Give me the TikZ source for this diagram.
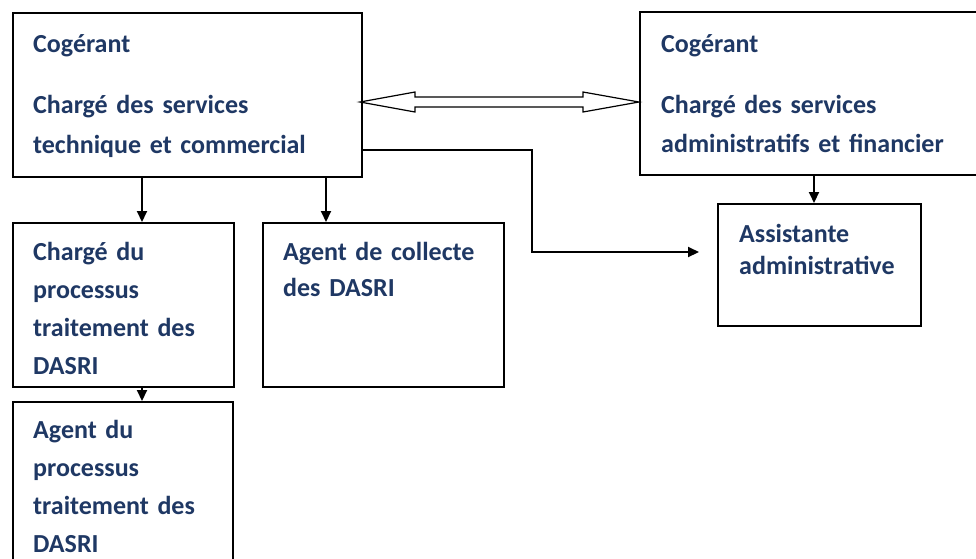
\documentclass[tikz,border=0pt]{standalone}
\usepackage{fontspec}
\setmainfont{Carlito}
\usetikzlibrary{arrows.meta,calc}
\definecolor{navy}{RGB}{31,56,100}
\tikzset{
  box/.style={draw=black, line width=2pt, rectangle, inner sep=0pt, anchor=north west, fill=white},
  txt/.style={anchor=base west, inner sep=0pt, text=navy, align=left, text width=340pt},
  conn/.style={draw=black, line width=2pt, -{Triangle[length=11pt,width=10pt]}},
  dbl/.style={draw=black, line width=1.2pt, fill=white, line join=miter}
}
\begin{document}
\begin{tikzpicture}[x=1pt,y=-1pt]
\useasboundingbox (0,0) rectangle (976,558);
\clip (0,0) rectangle (976,558);
\fill[white] (0,0) rectangle (976,558);
% boxes
\node[box, minimum width=349pt, minimum height=164pt] (b1) at (12,12) {};
\node[box, minimum width=360pt, minimum height=163pt] (b2) at (639,11) {};
\node[box, minimum width=203pt, minimum height=122pt] (b3) at (717,203) {};
\node[box, minimum width=221pt, minimum height=164pt] (b4) at (12,222) {};
\node[box, minimum width=241pt, minimum height=164pt] (b5) at (262,222) {};
\node[box, minimum width=220pt, minimum height=175pt] (b6) at (12,401) {};
% texts
\node[txt, font=\bfseries\fontsize{26}{40}\selectfont] (t1) at (33,52) {Cogérant\\[21pt]Chargé des services\\technique et commercial};
\node[txt, font=\bfseries\fontsize{26}{39}\selectfont] (t2) at (661,52) {Cogérant\\[22pt]Chargé des services\\administratifs et financier};
\node[txt, font=\bfseries\fontsize{26}{32}\selectfont] (t3) at (739,242) {Assistante\\administrative};
\node[txt, font=\bfseries\fontsize{26}{38}\selectfont] (t4) at (33,260) {Chargé du\\processus\\traitement des\\DASRI};
\node[txt, font=\bfseries\fontsize{26}{36}\selectfont] (t5) at (283,260) {Agent de collecte\\des DASRI};
\node[txt, font=\bfseries\fontsize{26}{38.3}\selectfont] (t6) at (33,438) {Agent du\\processus\\traitement des\\DASRI};
% double arrow
\coordinate (L) at ([xshift=-3pt,yshift=-90pt]b1.north east);
\coordinate (R) at ([yshift=-91pt]b2.north west);
\draw[dbl] (L) -- ++(55,-10) -- ++(0,5) -- ($(R)+(-56,-5)$) -- ++(0,-5) -- (R) -- ++(-56,10) -- ++(0,-5) -- ($(L)+(55,5)$) -- ++(0,5) -- cycle;
% connectors
\draw[conn] ([xshift=130pt]b1.south west) -- ([xshift=130pt]b4.north west);
\draw[conn] ([xshift=314pt]b1.south west) -- ([xshift=64pt]b5.north west);
\draw[conn] ([xshift=175pt]b2.south west) -- ([xshift=97pt]b3.north west);
\draw[conn] ([xshift=130pt]b4.south west) -- ([xshift=130pt]b6.north west);
\coordinate (ae) at (699,252);
\draw[conn] ([yshift=-138pt]b1.north east) -- ++(169,0) |- (ae);
\end{tikzpicture}
\end{document}
